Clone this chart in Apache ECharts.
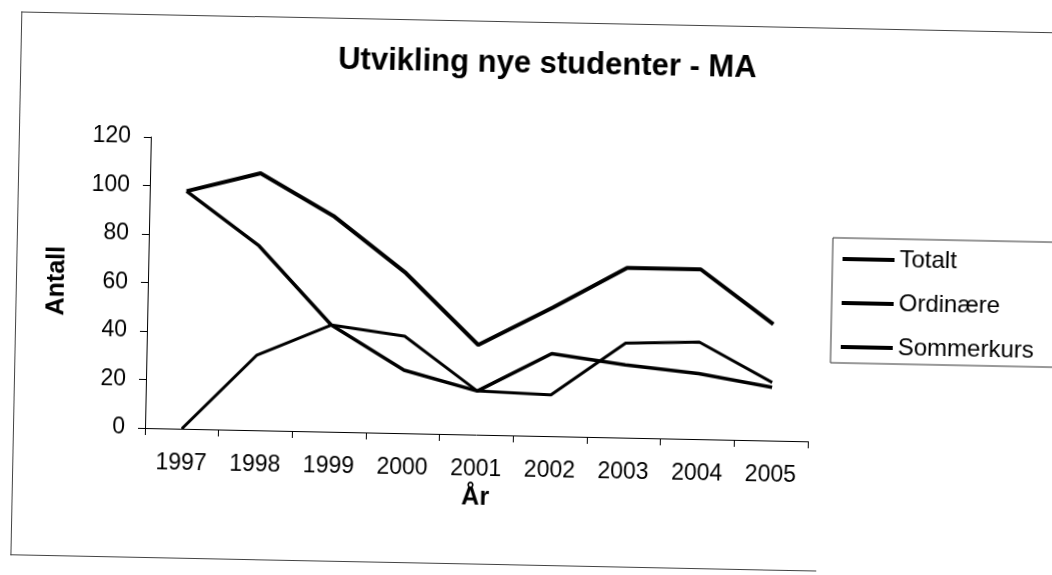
<!DOCTYPE html>
<html>
<head>
<meta charset="utf-8">
<script src="https://cdn.jsdelivr.net/npm/echarts@6/dist/echarts.min.js"></script>
<style>
  html, body { margin: 0; padding: 0; background: #fff; overflow: hidden; }
  /* the scanned original is tilted a little clockwise */
  #page { position: absolute; left: 0; top: 0; width: 1052px; height: 575px;
          transform: rotate(1.15deg); transform-origin: 145px 428px; }
  #frame { position: absolute; left: 13px; top: 14px; width: 1200px; height: 543px;
           border-left: 1px solid #444; border-top: 1px solid #444; }
  #frameBottom { position: absolute; left: 13px; top: 557px; width: 806px; height: 0;
                 border-top: 1px solid #444; }
  #chart { position: absolute; left: 0; top: 0; width: 1052px; height: 575px; }
</style>
</head>
<body>
<div id="page">
  <div id="frame"></div>
  <div id="frameBottom"></div>
  <div id="chart"></div>
</div>
<script>
const years = ['1997', '1998', '1999', '2000', '2001', '2002', '2003', '2004', '2005']
const totalt = [98, 106, 89, 66, 37, 53, 70, 70, 48]
const ordinaere = [98, 76, 44, 26, 18, 34, 30, 27, 22]
const sommerkurs = [0, 31, 44, 40, 18, 17, 39, 40, 24]

const font = 'Liberation Sans, Arial, sans-serif'

const chart = echarts.init(document.getElementById('chart'))
chart.setOption({
  animation: false,
  title: {
    text: 'Utvikling nye studenter - MA',
    left: 535,
    top: 36,
    textAlign: 'center',
    textStyle: { fontFamily: font, fontSize: 31, fontWeight: 'bold', color: '#000' }
  },
  legend: {
    orient: 'vertical',
    left: 829,
    top: 224,
    padding: [9, 60, 4, 10],
    itemGap: 20,
    itemWidth: 52,
    itemHeight: 4,
    icon: 'rect',
    borderColor: '#333',
    borderWidth: 1,
    textStyle: { fontFamily: font, fontSize: 24, color: '#000' },
    data: ['Totalt', 'Ordinære', 'Sommerkurs']
  },
  grid: {
    left: 145,
    right: 244,
    top: 137,
    bottom: 147,
    containLabel: false
  },
  xAxis: {
    type: 'category',
    data: years,
    boundaryGap: true,
    name: 'År',
    nameLocation: 'middle',
    nameGap: 41,
    nameTextStyle: { fontFamily: font, fontSize: 25, fontWeight: 'bold', color: '#000' },
    axisLine: { lineStyle: { color: '#000', width: 1 } },
    axisTick: { show: true, length: 7, lineStyle: { color: '#000' } },
    axisLabel: { fontFamily: font, fontSize: 23, color: '#000', margin: 23 },
    splitLine: { show: false }
  },
  yAxis: {
    type: 'value',
    min: 0,
    max: 120,
    interval: 20,
    name: 'Antall',
    nameLocation: 'middle',
    nameGap: 78,
    nameTextStyle: { fontFamily: font, fontSize: 25, fontWeight: 'bold', color: '#000' },
    axisLine: { show: true, lineStyle: { color: '#000', width: 1 } },
    axisTick: { show: true, length: 7, lineStyle: { color: '#000' } },
    axisLabel: { fontFamily: font, fontSize: 23, color: '#000', margin: 20 },
    splitLine: { show: false }
  },
  series: [
    {
      name: 'Totalt',
      type: 'line',
      data: totalt,
      symbol: 'none',
      color: '#000',
      lineStyle: { color: '#000', width: 4 }
    },
    {
      name: 'Ordinære',
      type: 'line',
      data: ordinaere,
      symbol: 'none',
      color: '#000',
      lineStyle: { color: '#000', width: 3.5 }
    },
    {
      name: 'Sommerkurs',
      type: 'line',
      data: sommerkurs,
      symbol: 'none',
      color: '#000',
      lineStyle: { color: '#000', width: 3 }
    }
  ]
})
</script>
</body>
</html>
